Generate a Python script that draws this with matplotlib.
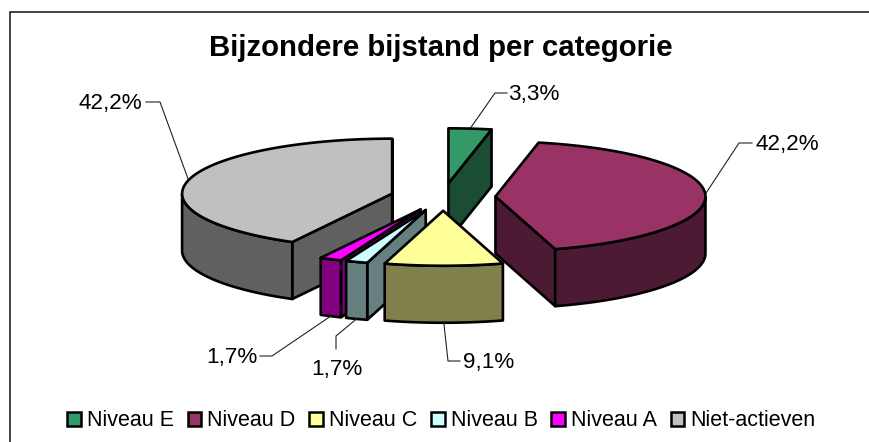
import numpy as np
import matplotlib
matplotlib.use("Agg")
import matplotlib.pyplot as plt
from matplotlib.patches import Polygon, Patch

plt.rcParams['font.family'] = ['Liberation Sans', 'DejaVu Sans']

# Data
categories = ['Niveau E', 'Niveau D', 'Niveau C', 'Niveau B', 'Niveau A', 'Niet-actieven']
values = [3.3, 42.2, 9.1, 1.7, 1.7, 42.2]
labels = ['3,3%', '42,2%', '9,1%', '1,7%', '1,7%', '42,2%']
title = 'Bijzondere bijstand per categorie'

# Style
top_colors = ['#339966', '#993366', '#FFFF99', '#CCFFFF', '#FF00FF', '#C0C0C0']
side_colors = ['#1A4D33', '#4D1A33', '#80804D', '#668080', '#800080', '#606060']

# Layout (pixels)
W, H = 869, 442
CX, CY = 443, 197
RX, RY = 210, 55
EXPLODE = 0.25
DEPTH = 57
LW = 1.9
draw_order = [0, 1, 5, 4, 3, 2]
# elbow and text anchor for each leader
elbows = [[(495, 93), (507, 93)], [(739, 143), (752, 143)], [(448, 361), (460, 361)],
          [(336, 336), (336, 349)], [(272, 356), (260, 356)], [(160, 102), (146, 102)]]
text_pos = [(508, 94.5, 'left'), (755, 144.5, 'left'), (463, 362.5, 'left'),
            (337, 369.5, 'center'), (257, 358, 'right'), (142, 103.5, 'right')]

fig = plt.figure(figsize=(W / 100, H / 100), dpi=100)
ax = fig.add_axes([0, 0, 1, 1])
ax.set_xlim(0, W)
ax.set_ylim(H, 0)
ax.axis('off')
# frame: the reference shows only the top and left edges
ax.plot([10, 10, W], [H, 12, 12], color='#222222', lw=1.2, zorder=1, solid_joinstyle='miter')

fracs = np.array(values) / np.sum(values)
edges = np.concatenate([[0], np.cumsum(fracs) * 2 * np.pi])


def pt(apex, a, dz=0.0):
    return (apex[0] + RX * np.sin(a), apex[1] - RY * np.cos(a) + dz)


for i in draw_order:
    a1, a2 = edges[i], edges[i + 1]
    mid = (a1 + a2) / 2
    apex = (CX + EXPLODE * RX * np.sin(mid), CY - EXPLODE * RY * np.cos(mid))
    arc = np.linspace(a1, a2, 80)
    arc_xy = [pt(apex, a) for a in arc]
    kw = dict(ec='black', lw=LW, joinstyle='round', zorder=3 + draw_order.index(i))
    # radial walls
    for a, vis in ((a1, np.sin(a1) < -1e-6), (a2, np.sin(a2) > 1e-6)):
        if vis or (i == 5 and a == a2):
            p = pt(apex, a)
            wall = [apex, p, (p[0], p[1] + DEPTH), (apex[0], apex[1] + DEPTH)]
            ax.add_patch(Polygon(wall, fc=side_colors[i], **kw))
    # outer rim, front half only
    front = arc[np.cos(arc) < 0]
    if len(front):
        rim = [pt(apex, a) for a in front] + [pt(apex, a, DEPTH) for a in front[::-1]]
        ax.add_patch(Polygon(rim, fc=side_colors[i], **kw))
    ax.add_patch(Polygon([apex] + arc_xy, fc=top_colors[i], **kw))

    # leader + label
    dz = DEPTH if np.cos(mid) < -0.5 else 0
    start = pt(apex, mid, dz)
    path = [start] + elbows[i]
    ax.plot(*zip(*path), color='#222222', lw=0.8, zorder=2 if dz == 0 else 20)
    tx, ty, ha = text_pos[i]
    ax.text(tx, ty, labels[i], ha=ha, va='center', fontsize=16.2, zorder=21)

ax.text(441, 48, title, ha='center', va='center', fontsize=21.2, fontweight='bold', zorder=21)

handles = [Patch(fc=c, ec='black', lw=1.8) for c in top_colors]
ax.legend(handles, categories, ncol=6, loc='center', bbox_to_anchor=(441.5 / W, 1 - 421 / H),
          frameon=False, fontsize=15.5, handlelength=0.63, handleheight=0.63,
          handletextpad=0.28, columnspacing=0.64, borderpad=0, borderaxespad=0)

fig.savefig('out.png', dpi=100)
